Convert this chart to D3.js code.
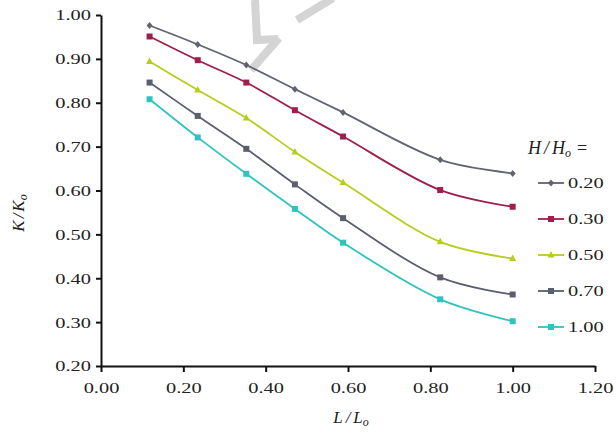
<!DOCTYPE html>
<html>
<head>
<meta charset="utf-8">
<script src="https://cdn.jsdelivr.net/npm/d3@7"></script>
<style>
  html, body { margin: 0; padding: 0; background: #ffffff; }
  svg { display: block; }
  text { font-family: "Liberation Serif", "DejaVu Serif", serif; fill: #222; }
</style>
</head>
<body>
<svg id="chart" width="616" height="439"></svg>
<script>
// L/Lo sample positions
const xValues = [0.118, 0.235, 0.353, 0.471, 0.588, 0.824, 1.0];

// Relative conductivity K/Ko for each H/Ho ratio
const seriesNames = ["0.20", "0.30", "0.50", "0.70", "1.00"];
const k020 = [0.976, 0.933, 0.886, 0.831, 0.778, 0.670, 0.639];
const k030 = [0.951, 0.897, 0.846, 0.783, 0.723, 0.601, 0.563];
const k050 = [0.894, 0.829, 0.765, 0.688, 0.618, 0.483, 0.445];
const k070 = [0.846, 0.770, 0.695, 0.614, 0.537, 0.402, 0.363];
const k100 = [0.808, 0.721, 0.638, 0.558, 0.481, 0.352, 0.302];

const xTicks = [0, 0.2, 0.4, 0.6, 0.8, 1.0, 1.2];
const yTicks = [0.2, 0.3, 0.4, 0.5, 0.6, 0.7, 0.8, 0.9, 1.0];

const colors = ["#60646f", "#9e1f4b", "#b6cd1c", "#5b5e6e", "#2fc3bd"];
const markers = ["diamond", "square", "triangle", "square", "square"];

const series = [k020, k030, k050, k070, k100].map((vals, i) => ({
  name: seriesNames[i],
  color: colors[i],
  marker: markers[i],
  points: vals.map((v, j) => ({ x: xValues[j], y: v }))
}));

const svg = d3.select("#chart");
const STRETCH = 1.36;   // wide serif numerals
const FS = 15;

const x = d3.scaleLinear().domain([0, 1.2]).range([101, 595]);
const y = d3.scaleLinear().domain([0.2, 1.0]).range([366, 15]);

// faint diagonal background strokes
const wm = svg.append("g").attr("stroke", "#d4d4d4").attr("fill", "none")
  .attr("stroke-width", 8).attr("stroke-linecap", "butt");
wm.append("path").attr("d", "M255,0 L257,40 L278,39");
wm.append("path").attr("d", "M279,38 L251,70");
wm.append("path").attr("d", "M333,-2 L297,20");

// axes
const yAxis = d3.axisLeft(y).tickValues(yTicks).tickSize(5).tickSizeOuter(0)
  .tickFormat(d3.format(".2f"));
const xAxis = d3.axisBottom(x).tickValues(xTicks).tickSize(6).tickSizeOuter(0)
  .tickFormat(d3.format(".2f"));

const gy = svg.append("g").attr("transform", `translate(${x(0)},0)`).call(yAxis);
const gx = svg.append("g").attr("transform", `translate(0,${y(0.2)})`).call(xAxis);

[gx, gy].forEach(g => {
  g.select(".domain").attr("stroke", "#111").attr("stroke-width", 2);
  g.selectAll(".tick line").attr("stroke", "#111").attr("stroke-width", 2);
  g.selectAll(".tick text")
    .attr("font-family", "Liberation Serif, DejaVu Serif, serif")
    .attr("font-size", FS).attr("fill", "#222");
});
gy.selectAll(".tick text")
  .attr("x", -10 / STRETCH).attr("dy", "0.33em")
  .attr("transform", `scale(${STRETCH},1)`);
gx.selectAll(".tick text")
  .attr("y", 27).attr("dy", 0)
  .attr("transform", `scale(${STRETCH},1)`);

// curves
const line = d3.line().x(d => x(d.x)).y(d => y(d.y)).curve(d3.curveCatmullRom.alpha(0.5));

function drawMarker(g, type, cx, cy, color) {
  if (type === "square") {
    g.append("rect").attr("x", cx - 3).attr("y", cy - 3).attr("width", 6).attr("height", 6)
      .attr("fill", color);
  } else if (type === "triangle") {
    g.append("path").attr("d", `M${cx},${cy - 4} L${cx + 3.5},${cy + 2.5} L${cx - 3.5},${cy + 2.5} Z`)
      .attr("fill", color);
  } else {
    g.append("path").attr("d", `M${cx},${cy - 3.5} L${cx + 3},${cy} L${cx},${cy + 3.5} L${cx - 3},${cy} Z`)
      .attr("fill", color);
  }
}

series.forEach(s => {
  const g = svg.append("g");
  g.append("path").datum(s.points).attr("d", line)
    .attr("fill", "none").attr("stroke", s.color).attr("stroke-width", 1.8);
  s.points.forEach(p => drawMarker(g, s.marker, x(p.x), y(p.y), s.color));
});

// legend
const legTitle = svg.append("text").attr("x", 528).attr("y", 154)
  .attr("font-size", 18);
legTitle.append("tspan").attr("font-style", "italic").text("H");
legTitle.append("tspan").attr("font-style", "italic").attr("dx", 3).text("/");
legTitle.append("tspan").attr("font-style", "italic").attr("dx", 3).text("H");
legTitle.append("tspan").attr("font-style", "italic").attr("font-size", 12).attr("dy", 3).text("o");
legTitle.append("tspan").attr("dy", -3).attr("dx", 6).text("=");

const legY = d3.scalePoint().domain(seriesNames).range([183, 327]);
series.forEach(s => {
  const cy = legY(s.name);
  const g = svg.append("g");
  g.append("line").attr("x1", 538).attr("x2", 564).attr("y1", cy).attr("y2", cy)
    .attr("stroke", s.color).attr("stroke-width", 1.8);
  drawMarker(g, s.marker, 551, cy, s.color);
  g.append("text").attr("transform", `translate(568,${cy}) scale(${STRETCH},1)`)
    .attr("dy", "0.33em").attr("font-size", FS).text(s.name);
});

// axis titles
const xt = svg.append("text").attr("x", 351).attr("y", 423).attr("text-anchor", "middle")
  .attr("font-size", 17).attr("font-style", "italic");
xt.append("tspan").text("L");
xt.append("tspan").attr("dx", 3).text("/");
xt.append("tspan").attr("dx", 3).text("L");
xt.append("tspan").attr("font-size", 12).attr("dy", 3).text("o");

const yt = svg.append("text").attr("transform", "translate(24,213) rotate(-90)")
  .attr("text-anchor", "middle").attr("font-size", 17).attr("font-style", "italic");
yt.append("tspan").text("K");
yt.append("tspan").attr("dx", 2).text("/");
yt.append("tspan").attr("dx", 2).text("K");
yt.append("tspan").attr("font-size", 12).attr("dy", 3).text("o");
</script>
</body>
</html>
